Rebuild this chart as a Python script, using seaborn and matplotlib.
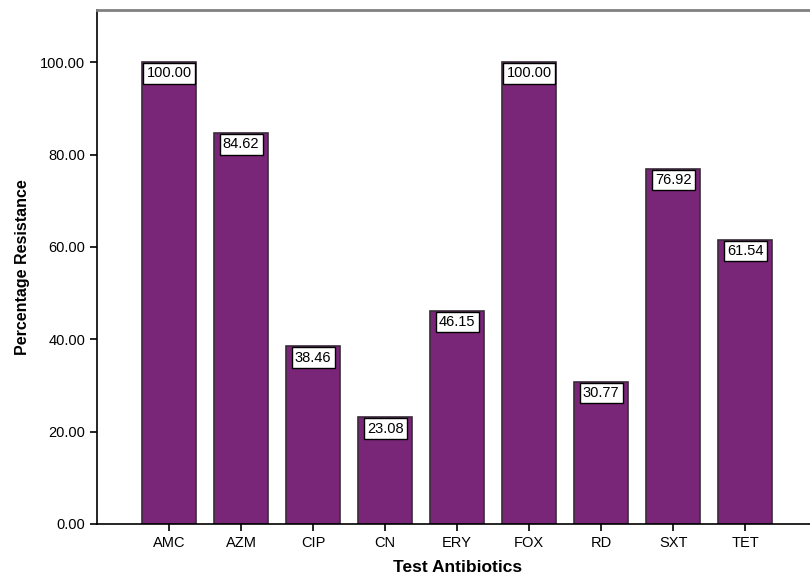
import pandas as pd
import matplotlib
matplotlib.use("Agg")
import matplotlib.pyplot as plt
import seaborn as sns

antibiotics = ["AMC", "AZM", "CIP", "CN", "ERY", "FOX", "RD", "SXT", "TET"]
resistance = [100.00, 84.62, 38.46, 23.08, 46.15, 100.00, 30.77, 76.92, 61.54]
y_ticks = [0, 20, 40, 60, 80, 100]


def main():
    df = pd.DataFrame({"antibiotic": antibiotics, "pct": resistance})

    sns.set_style("white")
    plt.rcParams["font.family"] = ["Liberation Sans", "DejaVu Sans"]
    plt.rcParams["text.color"] = "black"
    plt.rcParams["axes.labelcolor"] = "black"
    plt.rcParams["xtick.color"] = "black"
    plt.rcParams["ytick.color"] = "black"

    fig = plt.figure(figsize=(8.10, 5.79), dpi=100)
    ax = fig.add_axes([0.1198, 0.095, 0.889, 0.8877])

    sns.barplot(data=df, x="antibiotic", y="pct", color="#7a2678",
                saturation=1, width=0.75, edgecolor="#3b2b3b", linewidth=1.2, ax=ax)

    # value labels boxed at the top of each bar
    for i, v in enumerate(resistance):
        ax.text(i, v - 0.9, f"{v:.2f}", ha="center", va="top", fontsize=10.5,
                color="black",
                bbox=dict(boxstyle="square,pad=0.22", fc="white", ec="black", lw=1))

    ax.set_xlim(-1, 9)
    ax.set_ylim(0, 111.3)
    ax.set_yticks(y_ticks)
    ax.set_yticklabels([f"{t:.2f}" for t in y_ticks], fontsize=10.5)
    ax.tick_params(axis="x", labelsize=10.5)
    ax.tick_params(direction="out", length=5, width=1.2, color="black", left=True, bottom=True)

    ax.set_xlabel("Test Antibiotics", fontsize=12.5, fontweight="bold", labelpad=7)
    ax.set_ylabel("Percentage Resistance", fontsize=11.5, fontweight="bold", labelpad=7)

    for side in ["left", "bottom"]:
        ax.spines[side].set_color("black")
        ax.spines[side].set_linewidth(1.2)
    ax.spines["top"].set_color("#808080")
    ax.spines["top"].set_linewidth(2)
    ax.spines["right"].set_visible(False)

    plt.savefig("out.png", dpi=100)
    plt.close()


if __name__ == "__main__":
    main()
